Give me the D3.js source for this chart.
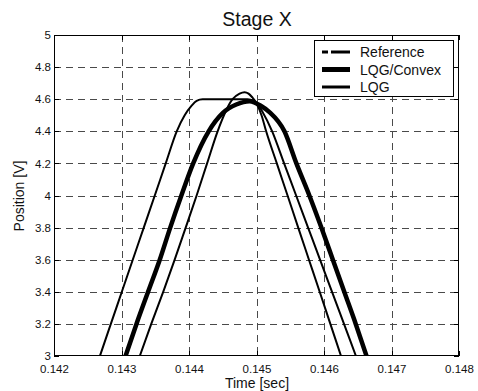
<!DOCTYPE html>
<html>
<head>
<meta charset="utf-8">
<script src="https://cdn.jsdelivr.net/npm/d3@7"></script>
<style>
  html, body { margin: 0; padding: 0; background: #fff; }
  svg { display: block; font-family: "Liberation Sans", Arial, Helvetica, sans-serif; }
</style>
</head>
<body>
<svg id="chart" width="478" height="391"></svg>
<script>
// Stage X position traces (time in seconds, position in volts)
const refTime = [0.142680, 0.142842, 0.143005, 0.143167, 0.143330, 0.143493, 0.143655, 0.143818,
  0.143936, 0.144039, 0.144113, 0.144202, 0.144867, 0.144956, 0.145015, 0.145074, 0.145143,
  0.145301, 0.145460, 0.145618, 0.145777, 0.145936, 0.146094, 0.146252];
const refPos = [3.0, 3.2, 3.4, 3.6, 3.8, 4.0, 4.2, 4.4,
  4.50, 4.56, 4.59, 4.60, 4.60, 4.59, 4.56, 4.50, 4.4,
  4.2, 4.0, 3.8, 3.6, 3.4, 3.2, 3.0];

const convexTime = [0.143060, 0.143222, 0.143394, 0.143567, 0.143722, 0.143887, 0.144062, 0.144291,
  0.144502, 0.144700, 0.144897, 0.145074, 0.145192, 0.145414, 0.145591, 0.145783, 0.145961,
  0.146131, 0.146300, 0.146470, 0.146630];
const convexPos = [3.0, 3.2, 3.4, 3.6, 3.8, 4.0, 4.2, 4.4,
  4.515, 4.567, 4.588, 4.556, 4.52, 4.4, 4.2, 4.0, 3.8,
  3.6, 3.4, 3.2, 3.0];

const lqgTime = [0.143271, 0.143441, 0.143618, 0.143788, 0.143951, 0.144113, 0.144268, 0.144424,
  0.144645, 0.144749, 0.144823, 0.144882, 0.144941, 0.145232, 0.145409, 0.145587, 0.145764,
  0.145941, 0.146119, 0.146296, 0.146473];
const lqgPos = [3.0, 3.2, 3.4, 3.6, 3.8, 4.0, 4.2, 4.4,
  4.60, 4.635, 4.644, 4.635, 4.61, 4.4, 4.2, 4.0, 3.8,
  3.6, 3.4, 3.2, 3.0];

const xTicks = [0.142, 0.143, 0.144, 0.145, 0.146, 0.147, 0.148];
const yTicks = [3, 3.2, 3.4, 3.6, 3.8, 4, 4.2, 4.4, 4.6, 4.8, 5];
const xTickLabels = ["0.142", "0.143", "0.144", "0.145", "0.146", "0.147", "0.148"];
const yTickLabels = ["3", "3.2", "3.4", "3.6", "3.8", "4", "4.2", "4.4", "4.6", "4.8", "5"];

const seriesNames = ["Reference", "LQG/Convex", "LQG"];

const svg = d3.select("#chart");
const plotL = 54, plotR = 459, plotT = 35, plotB = 356;

const x = d3.scaleLinear().domain([0.142, 0.148]).range([plotL, plotR]);
const y = d3.scaleLinear().domain([3, 5]).range([plotB, plotT]);

svg.append("defs").append("clipPath").attr("id", "plotClip")
  .append("rect").attr("x", plotL).attr("y", plotT)
  .attr("width", plotR - plotL).attr("height", plotB - plotT);

// dashed grid
const grid = svg.append("g").attr("stroke", "#4a4a4a").attr("stroke-width", 1)
  .attr("stroke-dasharray", "7,5").attr("shape-rendering", "crispEdges");
grid.selectAll(".gx").data(xTicks.slice(1, -1)).join("line")
  .attr("x1", d => Math.round(x(d)) + 0.5).attr("x2", d => Math.round(x(d)) + 0.5)
  .attr("y1", plotT).attr("y2", plotB);
grid.selectAll(".gy").data(yTicks.slice(1, -1)).join("line")
  .attr("y1", d => Math.round(y(d)) + 0.5).attr("y2", d => Math.round(y(d)) + 0.5)
  .attr("x1", plotL).attr("x2", plotR);

// traces
const line = d3.line().x(d => x(d[0])).y(d => y(d[1])).curve(d3.curveMonotoneX);
const zip = (a, b) => a.map((t, i) => [t, b[i]]);
const traces = [
  { name: seriesNames[0], data: zip(refTime, refPos), width: 2 },
  { name: seriesNames[1], data: zip(convexTime, convexPos), width: 4.5 },
  { name: seriesNames[2], data: zip(lqgTime, lqgPos), width: 2 }
];
const plot = svg.append("g").attr("clip-path", "url(#plotClip)");
plot.selectAll("path").data(traces).join("path")
  .attr("d", d => line(d.data))
  .attr("fill", "none").attr("stroke", "#000")
  .attr("stroke-width", d => d.width)
  .attr("stroke-linejoin", "round");

// axes: ticks inward on all four sides
const tickLen = 5;
const xFmt = (d, i) => xTickLabels[i];
const yFmt = (d, i) => yTickLabels[i];
const styleAxis = g => {
  g.select(".domain").remove();
  g.selectAll("line").attr("stroke", "#000").attr("shape-rendering", "crispEdges");
  g.selectAll("text").attr("font-size", 11.5).attr("fill", "#111")
    .attr("font-family", "Liberation Sans, Arial, sans-serif");
};
svg.append("g").attr("transform", `translate(0,${plotB})`)
  .call(d3.axisBottom(x).tickValues(xTicks).tickFormat(xFmt).tickSizeInner(-tickLen).tickSizeOuter(0).tickPadding(8.5))
  .call(styleAxis);
svg.append("g").attr("transform", `translate(0,${plotT})`)
  .call(d3.axisTop(x).tickValues(xTicks).tickFormat("").tickSizeInner(-tickLen).tickSizeOuter(0))
  .call(styleAxis);
svg.append("g").attr("transform", `translate(${plotL},0)`)
  .call(d3.axisLeft(y).tickValues(yTicks).tickFormat(yFmt).tickSizeInner(-tickLen).tickSizeOuter(0).tickPadding(3))
  .call(styleAxis);
svg.append("g").attr("transform", `translate(${plotR},0)`)
  .call(d3.axisRight(y).tickValues(yTicks).tickFormat("").tickSizeInner(-tickLen).tickSizeOuter(0))
  .call(styleAxis);

// frame
svg.append("rect").attr("x", plotL + 0.5).attr("y", plotT + 0.5)
  .attr("width", plotR - plotL - 1).attr("height", plotB - plotT - 1)
  .attr("fill", "none").attr("stroke", "#000").attr("stroke-width", 1)
  .attr("shape-rendering", "crispEdges");

// title and axis labels
svg.append("text").attr("x", 257).attr("y", 26).attr("text-anchor", "middle")
  .attr("font-size", 19.5).attr("fill", "#111").text("Stage X");
svg.append("text").attr("x", 257).attr("y", 388).attr("text-anchor", "middle")
  .attr("font-size", 14).attr("fill", "#111").text("Time [sec]");
svg.append("text").attr("transform", "translate(24,196) rotate(-90)")
  .attr("text-anchor", "middle").attr("font-size", 14).attr("fill", "#111").text("Position [V]");

// legend
const lg = svg.append("g");
lg.append("rect").attr("x", 314.5).attr("y", 40.5).attr("width", 139).attr("height", 56)
  .attr("fill", "#fff").attr("stroke", "#000").attr("shape-rendering", "crispEdges");
const legendItems = [
  { name: seriesNames[0], width: 3, dash: "6,3,18,0", yy: 52 },
  { name: seriesNames[1], width: 5, dash: null, yy: 69.5 },
  { name: seriesNames[2], width: 3, dash: null, yy: 87 }
];
legendItems.forEach(it => {
  lg.append("line").attr("x1", 322).attr("x2", 350).attr("y1", it.yy).attr("y2", it.yy)
    .attr("stroke", "#000").attr("stroke-width", it.width)
    .attr("stroke-dasharray", it.dash);
  lg.append("text").attr("x", 360).attr("y", it.yy + 5).attr("font-size", 14)
    .attr("fill", "#111").text(it.name);
});
</script>
</body>
</html>
